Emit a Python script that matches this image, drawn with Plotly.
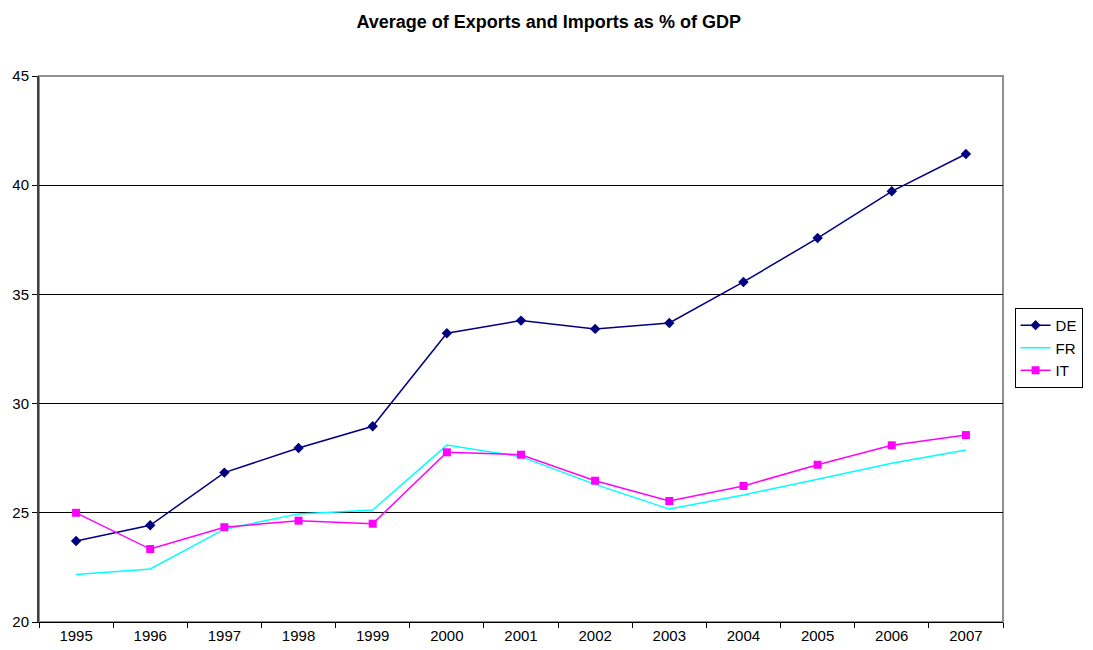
import plotly.graph_objects as go

years = ["1995", "1996", "1997", "1998", "1999", "2000", "2001",
         "2002", "2003", "2004", "2005", "2006", "2007"]
de = [23.71, 24.43, 26.84, 27.97, 28.96, 33.22, 33.80, 33.42, 33.69, 35.57, 37.58, 39.72, 41.43]
fr = [22.18, 22.43, 24.25, 24.95, 25.13, 28.10, 27.57, 26.30, 25.17, 25.82, 26.54, 27.27, 27.88]
it = [25.00, 23.34, 24.34, 24.64, 24.50, 27.77, 27.66, 26.47, 25.54, 26.23, 27.20, 28.09, 28.56]

font_family = "Liberation Sans, Arial, sans-serif"

fig = go.Figure()
fig.add_trace(go.Scatter(
    x=years, y=de, name="DE", mode="lines+markers",
    line=dict(color="#000080", width=1.5),
    marker=dict(symbol="diamond", size=8, color="#000080"),
))
fig.add_trace(go.Scatter(
    x=years, y=fr, name="FR", mode="lines",
    line=dict(color="#00FFFF", width=1.5),
))
fig.add_trace(go.Scatter(
    x=years, y=it, name="IT", mode="lines+markers",
    line=dict(color="#FF00FF", width=1.5),
    marker=dict(symbol="square", size=8, color="#FF00FF"),
))

fig.update_layout(
    width=1093, height=650,
    margin=dict(l=39, r=90, t=76, b=28, autoexpand=False),
    paper_bgcolor="white", plot_bgcolor="white",
    font=dict(family=font_family, size=15, color="black"),
    title=dict(
        text="<b>Average of Exports and Imports as % of GDP</b>",
        x=0.502, xanchor="center", y=0.966, yanchor="middle",
        font=dict(family=font_family, size=18, color="black"),
    ),
    legend=dict(
        x=1.012, xanchor="left", y=0.502, yanchor="middle",
        bordercolor="black", borderwidth=1, bgcolor="white",
        font=dict(family=font_family, size=15, color="black"),
        itemwidth=30,
    ),
    xaxis=dict(
        type="category", range=[-0.5, 12.5], automargin=False,
        showline=True, linecolor="black", linewidth=1,
        ticks="outside", tickson="boundaries", ticklen=5, tickcolor="black",
        showgrid=False, zeroline=False,
        tickfont=dict(size=15),
    ),
    yaxis=dict(
        range=[20, 45], dtick=5, automargin=False,
        showline=True, linecolor="#404040", linewidth=2,
        ticks="outside", ticklen=5, tickcolor="black",
        showgrid=True, gridcolor="black", gridwidth=1,
        zeroline=False, tickfont=dict(size=15),
    ),
    shapes=[dict(
        type="rect", xref="paper", yref="paper", x0=0, x1=1, y0=0, y1=1,
        line=dict(color="#909090", width=2), layer="below",
    )],
)

fig.write_html("out.html")
